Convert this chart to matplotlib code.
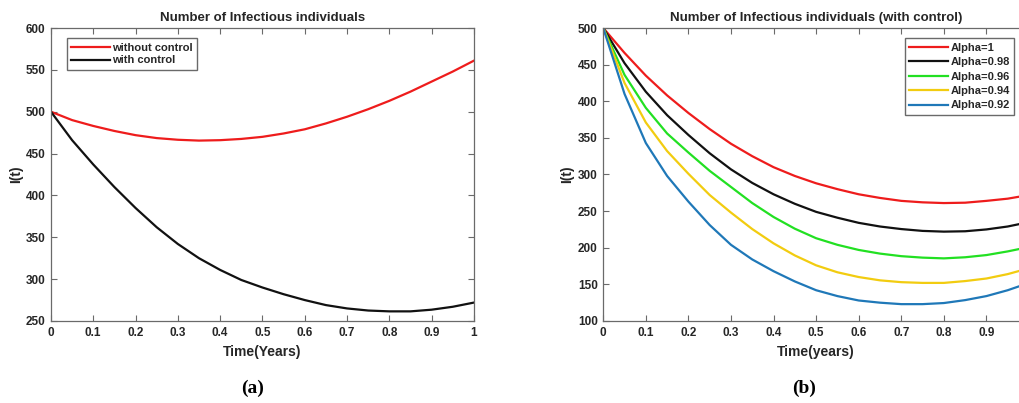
import matplotlib
matplotlib.use("Agg")
import matplotlib.pyplot as plt

# time grid (years)
t = [0.0, 0.05, 0.1, 0.15, 0.2, 0.25, 0.3, 0.35, 0.4, 0.45, 0.5,
     0.55, 0.6, 0.65, 0.7, 0.75, 0.8, 0.85, 0.9, 0.95, 1.0]

# panel (a)
without_control = [500, 490, 483, 477, 472, 468.5, 466.5, 465.5, 466, 467.5, 470,
                   474, 479, 486, 494, 503, 513, 524, 536, 548, 561]
with_control = [500, 466, 437, 410, 385, 362, 342, 325, 311, 299, 290,
                282, 275, 269, 265, 262.5, 261.5, 261.5, 263.5, 267, 272]

# panel (b)
alpha_labels = ["Alpha=1", "Alpha=0.98", "Alpha=0.96", "Alpha=0.94", "Alpha=0.92"]
alpha_1 = [500, 466, 435, 408, 384, 362, 342, 325, 310, 298, 288,
           280, 273, 268, 264, 262, 261, 261.5, 264, 267, 272]
alpha_098 = [500, 452, 413, 381, 354, 329, 307, 288.5, 273, 260, 249,
             241, 234, 229, 225.5, 223, 222, 222.5, 225, 229, 235]
alpha_096 = [500, 436, 391, 356, 330, 305, 283, 261, 242, 226, 213,
             204, 197, 192, 188.5, 186.5, 185.5, 187, 190, 195, 201]
alpha_094 = [500, 425, 371, 332, 301, 272, 248, 225.5, 206, 189.5, 176,
             166.5, 160, 155.5, 153, 152, 152, 154.5, 158, 164, 172]
alpha_092 = [500, 410, 343, 298, 263, 231, 204, 184, 168, 154, 142,
             134, 128, 125, 123, 123, 124.5, 128.5, 134, 142, 152]

alpha_series = [alpha_1, alpha_098, alpha_096, alpha_094, alpha_092]
alpha_colors = ["#ee1c1c", "#111111", "#22e022", "#f2cc10", "#1f78b8"]

xticks = [0, 0.1, 0.2, 0.3, 0.4, 0.5, 0.6, 0.7, 0.8, 0.9, 1]
xticklabels_a = ["0", "0.1", "0.2", "0.3", "0.4", "0.5", "0.6", "0.7", "0.8", "0.9", "1"]
xticklabels_b = ["0", "0.1", "0.2", "0.3", "0.4", "0.5", "0.6", "0.7", "0.8", "0.9", ""]

plt.rcParams['font.family'] = ['Liberation Sans', 'DejaVu Sans']
plt.rcParams['font.weight'] = 'bold'

fig = plt.figure(figsize=(10.19, 4.03), dpi=100)
ax1 = fig.add_axes([0.0500, 0.2035, 0.4151, 0.727])
ax2 = fig.add_axes([0.5920, 0.2035, 0.4178, 0.727])

txt_col = "#262626"
spine_col = "#6a6a6a"


def style_axes(ax, labels):
    ax.set_xlim(0, 1)
    ax.set_xticks(xticks)
    ax.set_xticklabels(labels)
    ax.tick_params(direction='in', length=4, width=0.8, top=True, right=True,
                   labelsize=8.5, colors=spine_col, labelcolor=txt_col, pad=4)
    for s in ax.spines.values():
        s.set_color(spine_col)
        s.set_linewidth(0.9)
    for lab in ax.get_xticklabels() + ax.get_yticklabels():
        lab.set_fontweight('bold')


leg_kw = dict(borderaxespad=0, fontsize=8, fancybox=False, framealpha=1,
              edgecolor=spine_col, handlelength=3.5, handletextpad=0.2,
              borderpad=0.4)

# (a)
ax1.plot(t, without_control, color="#ee1c1c", lw=1.6, label="without control")
ax1.plot(t, with_control, color="#111111", lw=1.6, label="with control")
ax1.set_ylim(250, 600)
ax1.set_yticks([250, 300, 350, 400, 450, 500, 550, 600])
style_axes(ax1, xticklabels_a)
ax1.set_title("Number of Infectious individuals", fontsize=9.5, fontweight='bold',
              color=txt_col, pad=5)
ax1.set_xlabel("Time(Years)", fontsize=10, fontweight='bold', color=txt_col, labelpad=5)
ax1.set_ylabel("I(t)", fontsize=10, fontweight='bold', color=txt_col, labelpad=2)
leg1 = ax1.legend(loc='upper left', bbox_to_anchor=(0.037, 0.965),
                  labelspacing=0.25, **leg_kw)
for tx in leg1.get_texts():
    tx.set_color(txt_col)

# (b)
for vals, lab, col in zip(alpha_series, alpha_labels, alpha_colors):
    ax2.plot(t, vals, color=col, lw=1.6, label=lab)
ax2.set_ylim(100, 500)
ax2.set_yticks([100, 150, 200, 250, 300, 350, 400, 450, 500])
style_axes(ax2, xticklabels_b)
ax2.set_title("Number of Infectious individuals (with control)", fontsize=9.5,
              fontweight='bold', color=txt_col, pad=5)
ax2.set_xlabel("Time(years)", fontsize=10, fontweight='bold', color=txt_col, labelpad=5)
ax2.set_ylabel("I(t)", fontsize=10, fontweight='bold', color=txt_col, labelpad=3)
leg2 = ax2.legend(loc='upper right', bbox_to_anchor=(0.9655, 0.965),
                  labelspacing=0.4, **leg_kw)
for tx in leg2.get_texts():
    tx.set_color(txt_col)

# captions
fig.text(253 / 1019, 1 - 388 / 403, "(a)", ha='center', va='center', fontsize=14,
         fontweight='bold', family=['Liberation Serif', 'DejaVu Serif'])
fig.text(804 / 1019, 1 - 388 / 403, "(b)", ha='center', va='center', fontsize=14,
         fontweight='bold', family=['Liberation Serif', 'DejaVu Serif'])

fig.savefig("out.png", dpi=100)
